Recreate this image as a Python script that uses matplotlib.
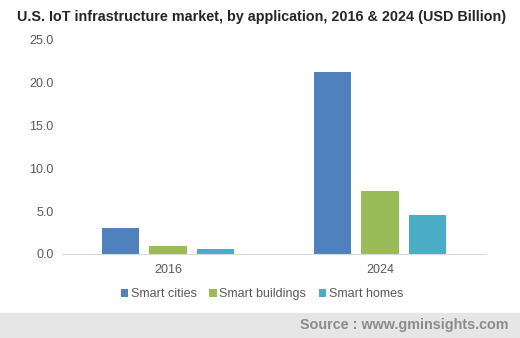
import matplotlib.pyplot as plt
import numpy as np

plt.rcParams['font.family'] = ['Liberation Sans', 'DejaVu Sans']

# data
years = ['2016', '2024']
segments = ['Smart cities', 'Smart buildings', 'Smart homes']
smart_cities = [3.05, 21.3]
smart_buildings = [0.93, 7.35]
smart_homes = [0.58, 4.55]
colors = ['#4f81bd', '#9bbb59', '#4bacc6']

W, H = 520, 338
fig = plt.figure(figsize=(W / 100, H / 100), dpi=100)
ax = fig.add_axes([62 / W, 1 - 254 / H, (486 - 62) / W, (254 - 40) / H])

x = np.arange(len(years))
bw = 0.175
step = 0.222
for i, (vals, lab) in enumerate(zip([smart_cities, smart_buildings, smart_homes], segments)):
    ax.bar(x + (i - 1) * step, vals, bw, color=colors[i], label=lab)

ax.set_xlim(-0.5, 1.5)
ax.set_ylim(0, 25)
ax.set_yticks(np.arange(0, 26, 5))
ax.set_yticklabels(['%.1f' % v for v in np.arange(0, 26, 5)])
ax.set_xticks(x)
ax.set_xticklabels(years)
for s in ['top', 'right', 'left']:
    ax.spines[s].set_visible(False)
ax.spines['bottom'].set_color('#d9d9d9')
ax.tick_params(axis='both', length=0, colors='#595959', labelsize=9)
ax.tick_params(axis='y', pad=6)
ax.tick_params(axis='x', pad=7)

ax.legend(loc='center', bbox_to_anchor=(262 / W, 1 - 294 / H), bbox_transform=fig.transFigure,
          ncol=3, frameon=False, fontsize=9, handlelength=0.6, handleheight=0.6,
          handletextpad=0.2, columnspacing=1.0, labelcolor='#595959')

fig.text(17 / W, 1 - 17 / H, 'U.S. IoT infrastructure market, by application, 2016 & 2024 (USD Billion)',
         fontsize=10.4, fontweight='bold', color='#262626', va='center', ha='left')

# source band
fig.patches.append(plt.Rectangle((0, 0), 1, 25 / H, transform=fig.transFigure,
                                 color='#e6e6e6', zorder=0))
fig.text(509 / W, 1 - 325 / H, 'Source : www.gminsights.com', fontsize=10.4, fontweight='bold',
         color='#8c8c8c', ha='right', va='center')

fig.savefig('out.png', dpi=100)
